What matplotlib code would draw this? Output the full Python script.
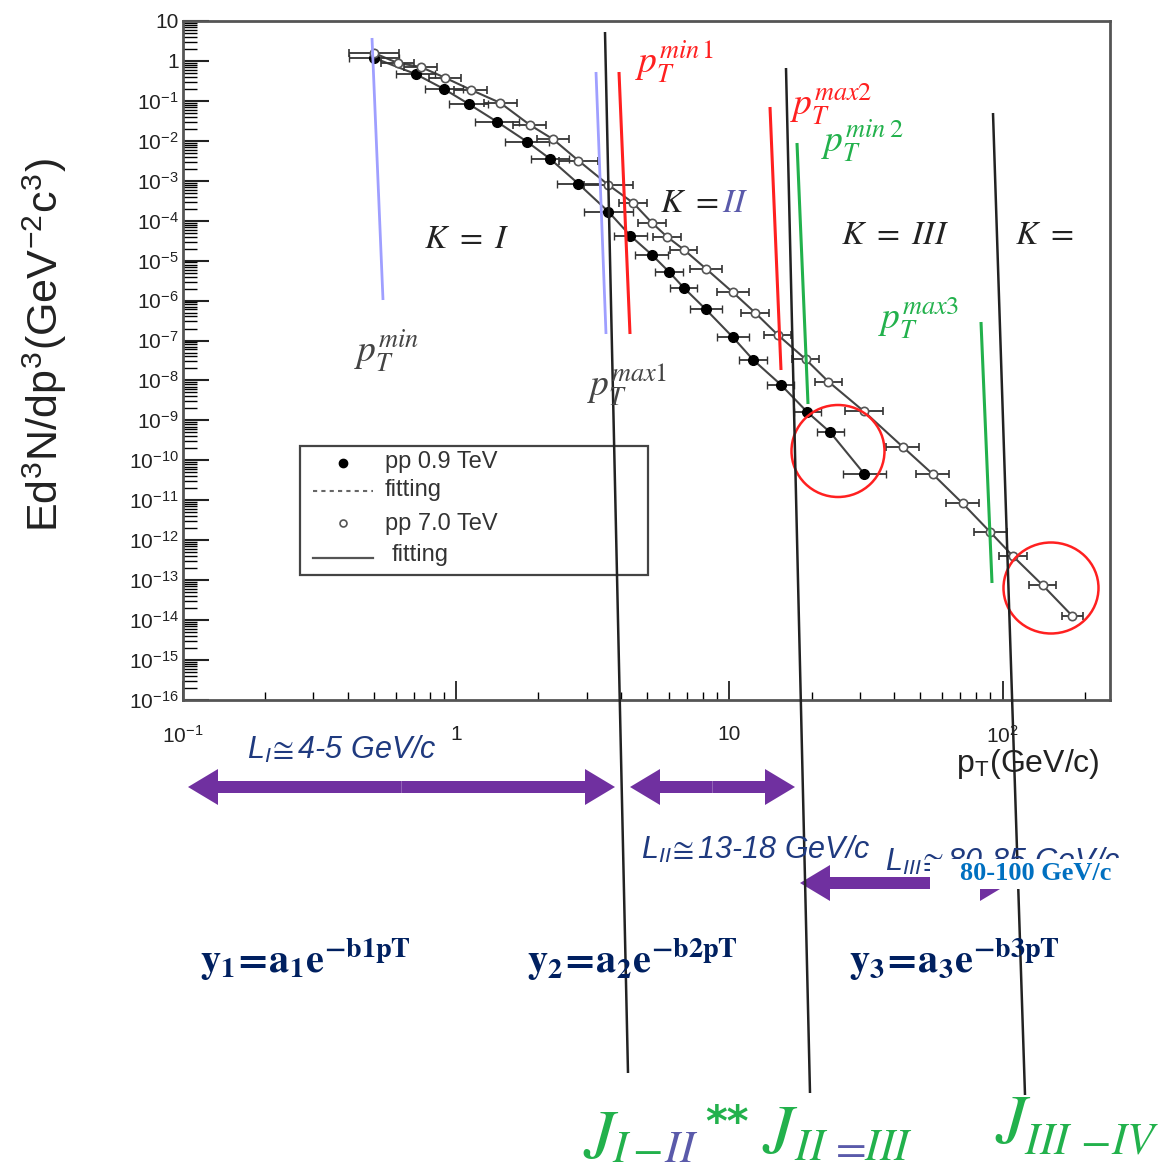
import numpy as np
import matplotlib
matplotlib.use("Agg")
import matplotlib.pyplot as plt
from matplotlib.patches import Ellipse, Rectangle, FancyArrow
from matplotlib.ticker import LogLocator, FuncFormatter, NullFormatter

plt.rcParams["mathtext.fontset"] = "stix"
plt.rcParams["font.family"] = ["Liberation Sans", "DejaVu Sans"]

# ======================
# DATA
# ======================
pt_09 = [0.50, 0.71, 0.90, 1.11, 1.41, 1.82, 2.21, 2.80, 3.6, 4.34, 5.2, 6.0,
         6.8, 8.2, 10.3, 12.2, 15.4, 19.3, 23.4, 31.2]
yld_09 = [1.19, 0.47, 0.20, 0.084, 0.030, 9.4e-3, 3.5e-3, 8.4e-4, 1.7e-4,
          4.2e-5, 1.4e-5, 5.3e-6, 2.1e-6, 6.0e-7, 1.2e-7, 3.3e-8, 7.9e-9,
          1.6e-9, 5.0e-10, 4.5e-11]
dex_09 = [0.09, 0.07, 0.07, 0.07, 0.08, 0.08, 0.07, 0.08, 0.09, 0.06, 0.06,
          0.05, 0.05, 0.06, 0.06, 0.05, 0.05, 0.05, 0.05, 0.08]

pt_70 = [0.50, 0.61, 0.74, 0.91, 1.13, 1.45, 1.86, 2.26, 2.80, 3.6, 4.44,
         5.2, 5.9, 6.8, 8.2, 10.3, 12.4, 15.0, 19.0, 23.0, 31.0, 43.0, 55.5,
         71.3, 90.0, 109.0, 140.0, 180.0]
yld_70 = [1.58, 0.89, 0.71, 0.38, 0.19, 0.089, 0.025, 0.011, 3.2e-3, 7.9e-4,
          2.8e-4, 8.9e-5, 4.0e-5, 1.9e-5, 6.3e-6, 1.6e-6, 5.0e-7, 1.4e-7,
          3.4e-8, 9.4e-9, 1.7e-9, 2.2e-10, 4.5e-11, 8.4e-12, 1.6e-12,
          4.0e-13, 7.5e-14, 1.26e-14]
dex_70 = [0.09, 0.06, 0.06, 0.06, 0.06, 0.06, 0.06, 0.06, 0.07, 0.09, 0.05,
          0.05, 0.05, 0.05, 0.06, 0.06, 0.05, 0.05, 0.05, 0.05, 0.07, 0.06,
          0.06, 0.06, 0.06, 0.05, 0.05, 0.04]

x_ticks = [0.1, 1, 10, 100]
x_tick_labels = [r"10$^{\mathregular{-1}}$", "1", "10", r"10$^{\mathregular{2}}$"]

# annotation overlay, figure pixels
W, H = 1170, 1176
black_lines = [((605, 32), (628, 1073)), ((786, 68), (810, 1093)),
               ((993, 113), (1025, 1095))]
blue_lines = [((372, 38), (383, 300)), ((596, 72), (606, 334))]
red_lines = [((619, 72), (630, 334)), ((770, 107), (781, 370))]
green_lines = [((797, 143), (808, 404)), ((981, 322), (992, 583))]

PURPLE = "#7030a0"
NAVY = "#1f3a7f"
GREEN = "#22b14c"
RED = "#ff2020"
SLATE = "#5a5aaa"


def xerr(x, d):
    x = np.asarray(x)
    d = np.asarray(d)
    return [x - x / 10 ** d, x * 10 ** d - x]


fig = plt.figure(figsize=(W / 100, H / 100), dpi=100)
ax = fig.add_axes([183 / W, 1 - 700 / H, (1110 - 183) / W, (700 - 21) / H])

ax.plot(pt_09, yld_09, color="#444444", lw=1.5, zorder=2)
ax.plot(pt_70, yld_70, color="#444444", lw=1.5, zorder=2)
ax.errorbar(pt_09, yld_09, xerr=xerr(pt_09, dex_09), fmt="o", ms=7,
            mfc="black", mec="black", ecolor="#333333", elinewidth=1.3,
            capsize=3, zorder=3)
ax.errorbar(pt_70, yld_70, xerr=xerr(pt_70, dex_70), fmt="o", ms=6,
            mfc="white", mec="#555555", mew=1.2, ecolor="#333333",
            elinewidth=1.3, capsize=3, zorder=3)

ax.set_xscale("log")
ax.set_yscale("log")
ax.set_xlim(0.1, 247)
ax.set_ylim(1e-16, 10)

ax.yaxis.set_major_locator(LogLocator(base=10, numticks=40))
ax.yaxis.set_minor_locator(LogLocator(base=10, subs=np.arange(2, 10), numticks=400))
ax.yaxis.set_minor_formatter(NullFormatter())


def ylab(v, pos):
    e = int(round(np.log10(v)))
    if e == 1:
        return "10"
    if e == 0:
        return "1"
    return r"10$^{\mathregular{%d}}$" % e


ax.yaxis.set_major_formatter(FuncFormatter(ylab))
ax.set_xticks(x_ticks)
ax.set_xticklabels(x_tick_labels)
ax.xaxis.set_minor_locator(LogLocator(base=10, subs=np.arange(2, 10), numticks=100))
ax.xaxis.set_minor_formatter(NullFormatter())

ax.tick_params(axis="y", which="major", direction="in", length=19, width=1.5,
               labelsize=15, pad=3, colors="#222222")
ax.tick_params(axis="y", which="minor", direction="in", length=10, width=1.0)
ax.tick_params(axis="x", which="major", direction="in", length=14, width=1.3,
               labelsize=15, pad=18, colors="#222222")
ax.tick_params(axis="x", which="minor", direction="in", length=6, width=1.0)
for s in ax.spines.values():
    s.set_color("#555555")
    s.set_linewidth(2)

# ======================
# OVERLAY
# ======================
ov = fig.add_axes([0, 0, 1, 1], zorder=5)
ov.set_xlim(0, W)
ov.set_ylim(H, 0)
ov.axis("off")

ov.text(45, 345, r"Ed$^{\mathregular{3}}$N/dp$^{\mathregular{3}}$(GeV$^{\mathregular{-2}}$c$^{\mathregular{3}}$)",
        rotation=90, ha="center", va="center", fontsize=31, color="#222222")
ov.text(1028, 764, r"p$_{\mathregular{T}}$(GeV/c)", ha="center", va="center",
        fontsize=23, color="#222222")

for segs, col, lw in [(black_lines, "#222222", 1.8), (blue_lines, "#9f9fff", 2.0),
                      (red_lines, RED, 2.2), (green_lines, GREEN, 2.2)]:
    for (x0, y0), (x1, y1) in segs:
        ov.plot([x0, x1], [y0, y1], color=col, lw=lw, solid_capstyle="butt")

ov.add_patch(Ellipse((838, 451), 93, 92, fill=False, ec=RED, lw=1.8))
ov.add_patch(Ellipse((1051, 588), 95, 91, fill=False, ec=RED, lw=1.8))

# legend box
ov.add_patch(Rectangle((300, 446), 348, 129, fill=False, ec="#444444", lw=1.6))
ov.plot([343], [463], "o", ms=6, color="black")
ov.plot([313, 373], [491, 491], color="#666666", lw=1.5, ls=(0, (2, 2)))
ov.plot([343], [523], "o", ms=5, mfc="white", mec="#555555", mew=1.2)
ov.plot([313, 373], [558, 558], color="#555555", lw=1.6)
for ty, tx, t in [(462, 385, "pp 0.9 TeV"), (490, 385, "fitting"),
                  (524, 385, "pp 7.0 TeV"), (555, 392, "fitting")]:
    ov.text(tx, ty, t, ha="left", va="center", fontsize=17, color="#333333")


def mt(x, y, s, col, fs=27, ha="center", va="center"):
    return ov.text(x, y, s, ha=ha, va=va, fontsize=fs, color=col)


# pT labels
mt(386, 352, r"$p_T^{min}$", "#444444")
mt(627, 385, r"$p_T^{max1}$", "#444444")
mt(675, 62, r"$p_T^{min\,1}$", RED)
mt(831, 104, r"$p_T^{max2}$", RED)
mt(863, 141, r"$p_T^{min\;2}$", GREEN)
mt(919, 318, r"$p_T^{max3}$", GREEN)

# K regions
mt(467, 240, r"$K\ =\ I$", "#222222", fs=24)
mt(660, 212, r"$K\ =\ $", "#222222", fs=24, ha="left", va="baseline")
mt(722, 212, r"$II$", SLATE, fs=24, ha="left", va="baseline")
mt(895, 235, r"$K\ =\ III$", "#222222", fs=24)
mt(1044, 235, r"$K\ =$", "#222222", fs=24)


# arrows
def darrow(xl, xr, y):
    xc = (xl + xr) / 2
    for dx in (xr - xc, xl - xc):
        ov.add_patch(FancyArrow(xc, y, dx, 0, width=12, head_width=36,
                                head_length=30, length_includes_head=True,
                                color=PURPLE, lw=0))


darrow(188, 615, 787)
darrow(630, 795, 787)
darrow(800, 1010, 883)

ov.text(342, 750, r"L$_{\mathregular{I}}\!\cong$4-5 GeV/c", ha="center", va="center",
        fontsize=22, style="italic", color=NAVY)
ov.text(756, 850, r"L$_{\mathregular{II}}\!\cong$13-18 GeV/c", ha="center", va="center",
        fontsize=22, style="italic", color=NAVY)
ov.text(885, 862, r"L$_{\mathregular{III}}\!\cong$80-85 GeV/c", ha="left", va="center",
        fontsize=22, style="italic", color=NAVY)
ov.add_patch(Rectangle((930, 859), 203, 30, fc="white", ec="none", zorder=4))
ov.text(1036, 874, "80-100 GeV/c", ha="center", va="center", fontsize=19,
        fontweight="bold", family="Liberation Serif", color="#0070c0", zorder=5)

# equations
for x, s in [(305, r"$\mathbf{y_1\!=\!a_1e^{-b1pT}}$"),
             (632, r"$\mathbf{y_2\!=\!a_2e^{-b2pT}}$"),
             (954, r"$\mathbf{y_3\!=\!a_3e^{-b3pT}}$")]:
    ov.text(x, 960, s, ha="center", va="center", fontsize=29, color="#002060")

# junction labels: big J plus coloured subscript pieces
J_FS, SUB_FS = 50, 32
for xj, yj in [(583, 1158), (762, 1153), (995, 1143)]:
    mt(xj, yj, r"$J$", GREEN, fs=J_FS, ha="left", va="baseline")
for xs, ys, s, col in [(612, 1162, r"$I$", GREEN), (632, 1162, r"$-$", GREEN),
                       (664, 1162, r"$II$", SLATE),
                       (794, 1160, r"$II$", GREEN), (829, 1160, r"$=$", SLATE),
                       (864, 1160, r"$III$", GREEN),
                       (1024, 1154, r"$III$", GREEN), (1080, 1154, r"$-$", GREEN),
                       (1111, 1154, r"$IV$", GREEN)]:
    mt(xs, ys, s, col, fs=SUB_FS, ha="left", va="baseline")
ov.text(727, 1124, "**", ha="center", va="center", fontsize=30,
        fontweight="bold", color=GREEN, family="DejaVu Sans")

fig.savefig("out.png", dpi=100)
